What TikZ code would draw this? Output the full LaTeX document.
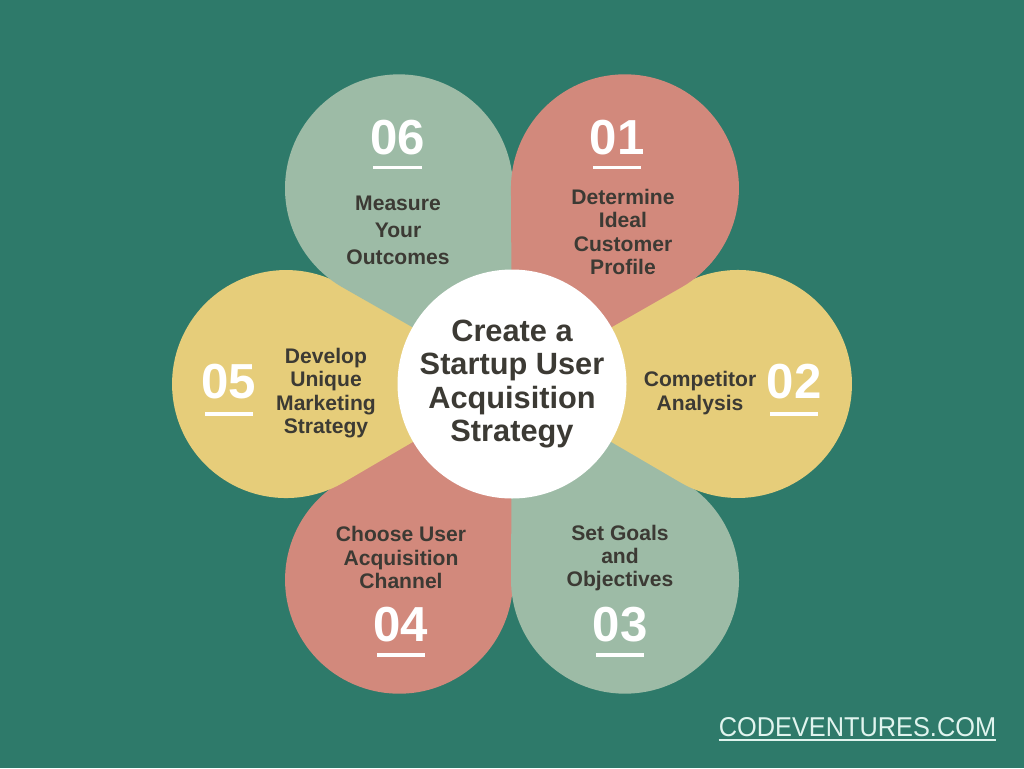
\documentclass[tikz,border=0pt]{standalone}
\usepackage{fontspec}
\setmainfont{Liberation Sans}
\newfontfamily\sitefont[FakeStretch=0.93]{Liberation Sans}

\definecolor{bgteal}{RGB}{46,122,106}
\definecolor{salmon}{RGB}{210,137,124}
\definecolor{sand}{RGB}{230,205,122}
\definecolor{sage}{RGB}{157,187,166}
\definecolor{ink}{RGB}{60,58,52}
\definecolor{mint}{RGB}{224,244,238}

\begin{document}
\begin{tikzpicture}[x=0.02cm,y=0.02cm,
  num/.style={text=white,inner sep=0pt,font=\fontsize{28}{30}\selectfont\bfseries},
  lbl/.style={text=ink,inner sep=0pt,align=center,font=\fontsize{12}{13.2}\selectfont\bfseries},
  bar/.style={draw=white,line width=2pt,shorten <=2pt,shorten >=2pt}]

  \fill[bgteal] (0,0) rectangle (1024,-768);
  \useasboundingbox (0,0) rectangle (1024,-768);
  \coordinate (O) at (512,-384);

  % petals, lowest first
  \fill[salmon] (O) -- ++(-150.29:195.1) arc[start angle=-240.29, end angle=0.29, radius=114] -- cycle;
  \fill[sage] (O) -- ++(-90.29:195.1) arc[start angle=-180.29, end angle=60.29, radius=114] -- cycle;
  \fill[sand] (O) -- ++(149.71:195.1) arc[start angle=59.71, end angle=300.29, radius=114] -- cycle;
  \fill[sand] (O) -- ++(-30.29:195.1) arc[start angle=-120.29, end angle=120.29, radius=114] -- cycle;
  \fill[sage] (O) -- ++(89.71:195.1) arc[start angle=-0.29, end angle=240.29, radius=114] -- cycle;
  \fill[salmon] (O) -- ++(29.71:195.1) arc[start angle=-60.29, end angle=180.29, radius=114] -- cycle;

  \node[circle,fill=white,inner sep=0pt,minimum size=229*0.02cm,align=center,text=ink,
        font=\fontsize{17.5}{18.9}\selectfont\bfseries] (C) at (O) {Create a\\Startup User\\Acquisition\\Strategy};

  \node[num] (N1) at (617,-137.5) {01};
  \node[num] (N2) at (794,-382) {02};
  \node[num] (N3) at (620,-625) {03};
  \node[num] (N4) at (401,-625) {04};
  \node[num] (N5) at (229,-382) {05};
  \node[num] (N6) at (397.5,-137.5) {06};

  \draw[bar] ([yshift=-7pt]N1.south west) -- ([yshift=-7pt]N1.south east);
  \draw[bar] ([yshift=-8pt]N2.south west) -- ([yshift=-8pt]N2.south east);
  \draw[bar] ([yshift=-7pt]N3.south west) -- ([yshift=-7pt]N3.south east);
  \draw[bar] ([yshift=-7pt]N4.south west) -- ([yshift=-7pt]N4.south east);
  \draw[bar] ([yshift=-8pt]N5.south west) -- ([yshift=-8pt]N5.south east);
  \draw[bar] ([yshift=-7pt]N6.south west) -- ([yshift=-7pt]N6.south east);

  \node[lbl] (T1) at (623,-232) {Determine\\Ideal\\Customer\\Profile};
  \node[lbl] (T2) at (700,-393) {Competitor\\Analysis};
  \node[lbl] (T3) at (620,-558) {Set Goals\\and\\Objectives};
  \node[lbl] (T4) at (401,-557.5) {Choose User\\Acquisition\\Channel};
  \node[lbl] (T5) at (326,-393) {Develop\\Unique\\Marketing\\Strategy};
  \node[lbl,font=\fontsize{12}{15.3}\selectfont\bfseries] (T6) at (398,-230) {Measure\\Your\\Outcomes};

  \node[text=mint,inner sep=0pt,font=\sitefont\fontsize{15.5}{17}\selectfont] (W) at (857.5,-726.7) {CODEVENTURES.COM};
  \draw[mint,line width=1pt] ([yshift=-1.8pt]W.south west) -- ([yshift=-1.8pt]W.south east);

\end{tikzpicture}
\end{document}
